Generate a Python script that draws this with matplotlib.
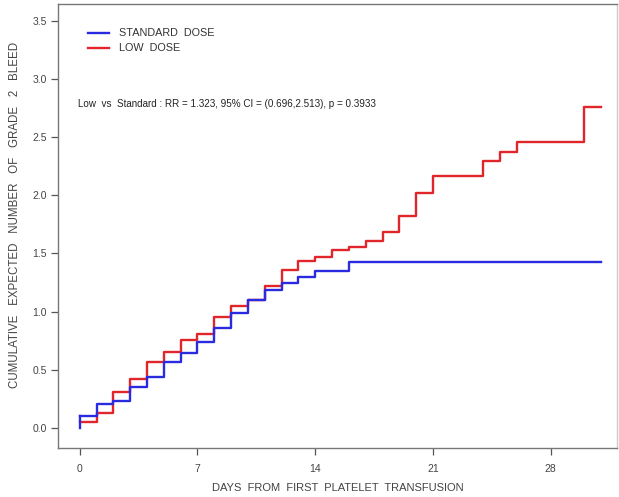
import numpy as np
import matplotlib.pyplot as plt

plt.rcParams['font.family'] = ['Liberation Sans', 'DejaVu Sans']

# step curves (day, cumulative expected number)
std_days = [0, 1, 2, 3, 4, 5, 6, 7, 8, 9, 10, 11, 12, 13, 14, 16, 31]
std_vals = [0.10, 0.21, 0.23, 0.35, 0.435, 0.564, 0.641, 0.736, 0.862, 0.985,
            1.10, 1.19, 1.243, 1.294, 1.35, 1.43, 1.43]

low_days = [0, 1, 2, 3, 4, 5, 6, 7, 8, 9, 10, 11, 12, 13, 14, 15, 16, 17, 18,
            19, 20, 21, 24, 25, 26, 30, 31]
low_vals = [0.054, 0.126, 0.312, 0.418, 0.564, 0.656, 0.756, 0.805, 0.951,
            1.048, 1.10, 1.223, 1.357, 1.437, 1.47, 1.53, 1.557, 1.61, 1.687,
            1.82, 2.016, 2.165, 2.297, 2.374, 2.454, 2.76, 2.76]

x_ticks = [0, 7, 14, 21, 28]
y_ticks = [0.0, 0.5, 1.0, 1.5, 2.0, 2.5, 3.0, 3.5]

blue = '#2a2ae0'
red = '#e0262a'
grey = '#555555'

fig = plt.figure(figsize=(6.19, 4.97), dpi=100, facecolor='white')
ax = fig.add_axes([0.0942, 0.0978, 0.9026, 0.8942])

# vertical rise from zero at day 0
ax.plot([0, 0], [0, std_vals[0]], color=blue, lw=1.7, zorder=3)
ax.step(low_days, low_vals, where='post', color=red, lw=1.7, zorder=2)
ax.step(std_days, std_vals, where='post', color=blue, lw=1.7, zorder=3)

ax.set_xlim(-1.272, 31.94)
ax.set_ylim(-0.175, 3.643)
ax.set_xticks(x_ticks)
ax.set_yticks(y_ticks)
ax.set_xticklabels([str(t) for t in x_ticks])
ax.set_yticklabels(['%.1f' % t for t in y_ticks])
ax.tick_params(direction='out', length=5, width=0.9, color=grey,
               labelcolor='#444444', labelsize=7.5)
ax.tick_params(axis='x', pad=6)
ax.tick_params(axis='y', pad=3)

for s in ax.spines.values():
    s.set_color('#777777')
    s.set_linewidth(1.0)
ax.spines['right'].set_color('#cccccc')

ax.set_xlabel('DAYS  FROM  FIRST  PLATELET  TRANSFUSION', fontsize=8,
              color='#444444', labelpad=7)
ax.set_ylabel('CUMULATIVE   EXPECTED   NUMBER   OF   GRADE   2   BLEED',
              fontsize=8.3, color='#444444')
ax.yaxis.set_label_coords(-0.066, 0.525)

# legend drawn by hand in axes fraction
for i, (lab, c) in enumerate([('STANDARD  DOSE', blue), ('LOW  DOSE', red)]):
    yy = 0.9347 - i * 0.033
    ax.plot([0.053, 0.0907], [yy, yy], transform=ax.transAxes, color=c,
            lw=1.7, clip_on=False)
    ax.text(0.1087, yy, lab, transform=ax.transAxes, fontsize=7.8,
            color='#333333', va='center', ha='left')

ax.text(0.0347, 0.776,
        'Low  vs  Standard : RR = 1.323, 95% CI = (0.696,2.513), p = 0.3933',
        transform=ax.transAxes, fontsize=7.1, color='#222222',
        va='center', ha='left')

plt.savefig('out.png', dpi=100, facecolor='white')
